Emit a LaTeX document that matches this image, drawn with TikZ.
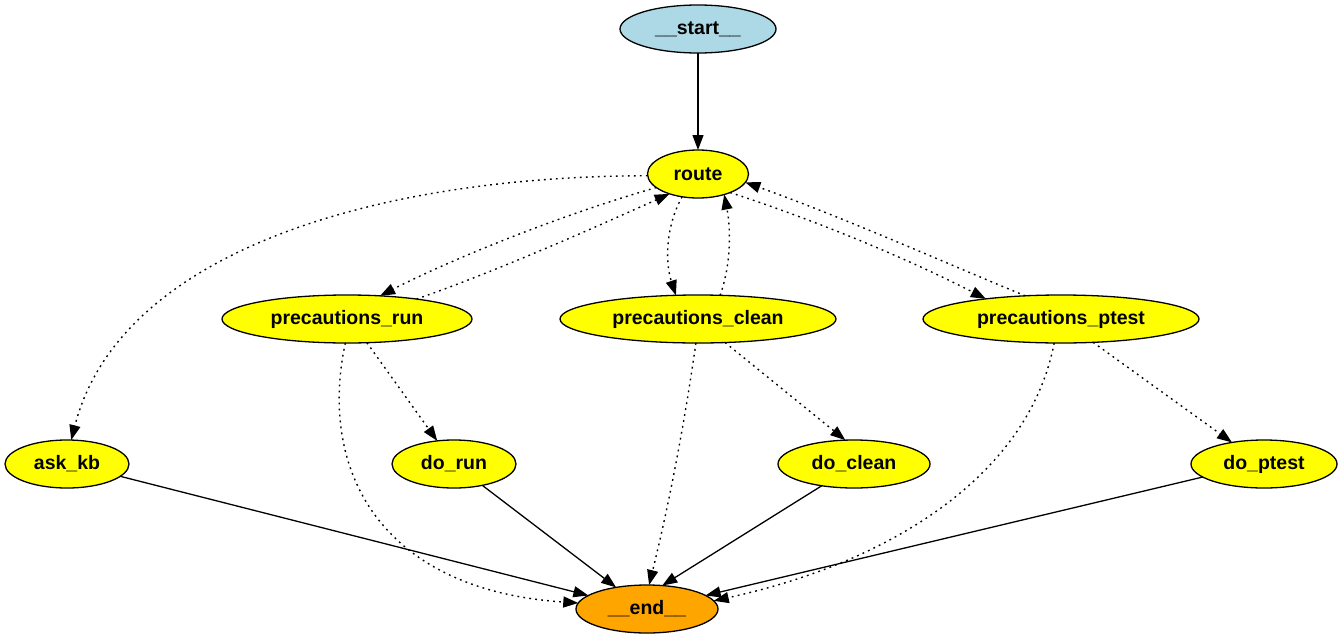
\documentclass[tikz,border=0pt]{standalone}
\usepackage{fontspec}
\setmainfont{Liberation Sans}
\usetikzlibrary{arrows.meta,shapes.geometric}
\definecolor{startblue}{HTML}{ADD8E6}
\definecolor{nodeyellow}{HTML}{FFFF00}
\definecolor{endorange}{HTML}{FFA500}
\tikzset{
  gnode/.style={ellipse, draw=black, line width=1.3pt, inner sep=0pt, outer sep=0pt,
    minimum height=48pt, fill=nodeyellow, font=\fontsize{19.5}{22}\selectfont\bfseries},
  solidarrow/.style={line width=1.3pt, -{Triangle[length=15pt,width=11pt]}},
  dotarrow/.style={line width=1.4pt, dash pattern=on 1.8pt off 4.2pt, -{Triangle[length=15pt,width=11pt]}},
}
\begin{document}
\begin{tikzpicture}[x=1pt,y=-1pt]
\useasboundingbox (0,0) rectangle (1344,640);
% nodes
\node[gnode, fill=startblue, minimum width=156pt] (start) at (698,29) {\_\_start\_\_};
\node[gnode, minimum width=101pt] (route) at (698,174) {route};
\node[gnode, minimum width=250pt] (prun) at (347,319) {precautions\_run};
\node[gnode, minimum width=276pt] (pclean) at (698,319) {precautions\_clean};
\node[gnode, minimum width=276pt] (pptest) at (1061,319) {precautions\_ptest};
\node[gnode, minimum width=124pt] (askkb) at (67,464) {ask\_kb};
\node[gnode, minimum width=124pt] (dorun) at (454,464) {do\_run};
\node[gnode, minimum width=152pt] (doclean) at (854,464) {do\_clean};
\node[gnode, minimum width=146pt] (doptest) at (1264,464) {do\_ptest};
\node[gnode, fill=endorange, minimum width=142pt] (end) at (647,609) {\_\_end\_\_};
% edges
\draw[solidarrow] (start.south) -- (route.north);
\draw[dotarrow] (route.182) .. controls (380,176) and (120,250) .. (askkb.80);
\draw[dotarrow] (route.198) .. controls (560,215) and (450,260) .. (prun.35);
\draw[dotarrow] (prun.16) .. controls (500,270) and (600,225) .. (route.215);
\draw[dotarrow] (route.235) .. controls (664,230) and (666,265) .. (pclean.133);
\draw[dotarrow] (pclean.47) .. controls (731,265) and (731,230) .. (route.322);
\draw[dotarrow] (route.330) .. controls (830,225) and (920,265) .. (pptest.165);
\draw[dotarrow] (pptest.147) .. controls (950,265) and (850,220) .. (route.350);
\draw[dotarrow] (prun.310) -- (dorun.126);
\draw[dotarrow] (prun.266) .. controls (318,470) and (380,590) .. (end.175);
\draw[dotarrow] (pclean.319) -- (doclean.110);
\draw[dotarrow] (pclean.265) .. controls (685,420) and (670,500) .. (end.85);
\draw[dotarrow] (pptest.324) -- (doptest.146);
\draw[dotarrow] (pptest.254) .. controls (1030,470) and (900,560) .. (end.7);
\draw[solidarrow] (askkb.347) -- (end.167);
\draw[solidarrow] (dorun.323) -- (end.145);
\draw[solidarrow] (doclean.214) -- (end.57);
\draw[solidarrow] (doptest.192) -- (end.13);
\end{tikzpicture}
\end{document}
